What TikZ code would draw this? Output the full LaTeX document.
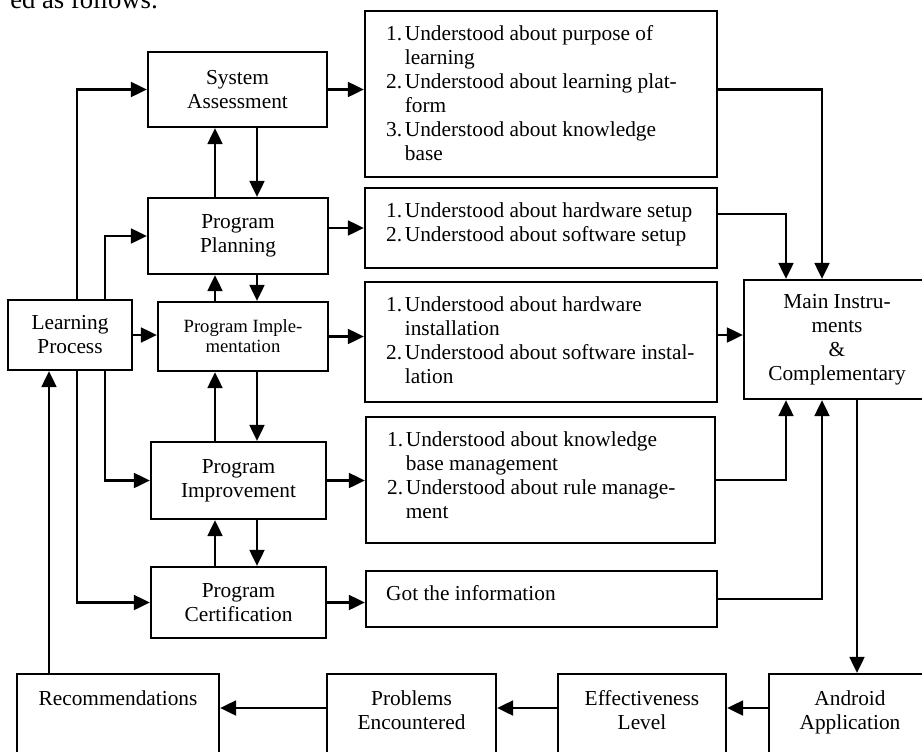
\documentclass[tikz,border=0pt]{standalone}
\usepackage{fontspec}
\setmainfont{Liberation Serif}
\usetikzlibrary{arrows.meta,calc}

\begin{document}
\begin{tikzpicture}[x=0.75pt,y=-0.75pt,
		box/.style={draw,line width=1.6pt,inner sep=0pt,align=center,font=\fontsize{16}{18}\selectfont},
		lst/.style={inner sep=0pt,anchor=north west,font=\fontsize{16}{18}\selectfont},
		top/.style={inner sep=0pt,anchor=north,align=center,font=\fontsize{16}{18}\selectfont},
		arr/.style={line width=2.1pt,-{Triangle[length=12pt,width=11pt]}},
		link/.style={line width=1.6pt}]
		\useasboundingbox (0,0) rectangle (922,751);
		\clip (0,0) rectangle (922,751);
		\node[anchor=base west,inner sep=0pt,font=\fontsize{20}{24}\selectfont] (head) at (10,8) {ed as follows:};
		% steps of the program
		\node[box,minimum width=134.25pt,minimum height=56.25pt] (SA) at (237.5,89.5) {System\\Assessment};
		\node[box,minimum width=135pt,minimum height=57pt] (PP) at (238,236) {Program\\Planning};
		\node[box,minimum width=127.5pt,minimum height=51.75pt,font=\fontsize{14}{15}\selectfont] (PI) at (243,336.5) {Program Imple-\\mentation};
		\node[box,minimum width=131.25pt,minimum height=57.75pt] (PImp) at (238.5,480.5) {Program\\Improvement};
		\node[box,minimum width=131.25pt,minimum height=53.25pt] (PCert) at (238.5,602.5) {Program\\Certification};
		\node[box,minimum width=93pt,minimum height=52.5pt] (LP) at (70,335) {Learning\\Process};
		% outcomes
		\node[box,minimum width=264pt,minimum height=124.5pt] (B1) at (541,94) {};
		\node[box,minimum width=264pt,minimum height=60pt] (B2) at (541,228) {};
		\node[box,minimum width=264pt,minimum height=90pt] (B3) at (541,342) {};
		\node[box,minimum width=261.75pt,minimum height=94.5pt] (B4) at (540.5,480) {};
		\node[box,minimum width=263.25pt,minimum height=42pt] (B5) at (541.5,599) {};
		\node[lst] (T1) at ($(B1.north west)+(22,13)$) {\begin{tabular}{@{}r@{\hspace{2pt}}l@{}}
				1. & Understood about purpose of\\
				& learning\\
				2. & Understood about learning plat-\\
				& form\\
				3. & Understood about knowledge\\
				& base
			\end{tabular}};
		\node[lst] (T2) at ($(B2.north west)+(22,13)$) {\begin{tabular}{@{}r@{\hspace{2pt}}l@{}}
				1. & Understood about hardware setup\\
				2. & Understood about software setup
			\end{tabular}};
		\node[lst] (T3) at ($(B3.north west)+(22,13)$) {\begin{tabular}{@{}r@{\hspace{2pt}}l@{}}
				1. & Understood about hardware\\
				& installation\\
				2. & Understood about software instal-\\
				& lation
			\end{tabular}};
		\node[lst] (T4) at ($(B4.north west)+(22,13)$) {\begin{tabular}{@{}r@{\hspace{2pt}}l@{}}
				1. & Understood about knowledge\\
				& base management\\
				2. & Understood about rule manage-\\
				& ment
			\end{tabular}};
		\node[lst] (T5) at ($(B5.north west)+(21,15)$) {Got the information};
		\node[box,minimum width=139.5pt,minimum height=89.25pt] (Main) at (837,339.5) {Main Instru-\\ments\\\&\\Complementary};
		% bottom row
		\node[box,minimum width=121.5pt,minimum height=87pt] (And) at (850,732) {};
		\node[box,minimum width=126pt,minimum height=87pt] (Eff) at (642,732) {};
		\node[box,minimum width=126.75pt,minimum height=87pt] (Prob) at (411.5,732) {};
		\node[box,minimum width=151.5pt,minimum height=87pt] (Rec) at (118,732) {};
		\node[top] (TAnd) at ($(And.north)+(0,17)$) {Android\\Application};
		\node[top] (TEff) at ($(Eff.north)+(0,17)$) {Effectiveness\\Level};
		\node[top] (TProb) at ($(Prob.north)+(0,17)$) {Problems\\Encountered};
		\node[top] (TRec) at ($(Rec.north)+(0,17)$) {Recommendations};
		% learning process to the steps
		\draw[arr] (77,0 |- LP.north) |- (SA.west);
		\draw[arr] (105,0 |- LP.north) |- (PP.west);
		\draw[arr] (LP.east) -- (LP.east -| PI.west);
		\draw[arr] (105,0 |- LP.south) |- (PImp.west);
		\draw[arr] (77,0 |- LP.south) |- (PCert.west);
		\draw[arr] (49,0 |- Rec.north) -- (49,0 |- LP.south);
		% between the steps
		\foreach \a/\b in {SA/PP,PP/PI,PI/PImp,PImp/PCert}{
			\draw[arr] (215,0 |- \b.north) -- (215,0 |- \a.south);
			\draw[arr] (257,0 |- \a.south) -- (257,0 |- \b.north);
		}
		% steps to outcomes
		\draw[arr] (SA.east) -- (SA.east -| B1.west);
		\draw[arr] (PP.east |- B2.west) -- (B2.west);
		\draw[arr] (PI.east) -- (PI.east -| B3.west);
		\draw[arr] (PImp.east) -- (PImp.east -| B4.west);
		\draw[arr] (PCert.east) -- (PCert.east -| B5.west);
		% outcomes to main instruments
		\draw[arr] (SA.east -| B1.east) -| (822,0 |- Main.north);
		\draw[arr] (B2.east |- 0,214) -| (786,0 |- Main.north);
		\draw[arr] (B3.east |- 0,335) -- (Main.west |- 0,335);
		\draw[arr] (B4.east) -| (786,0 |- Main.south);
		\draw[arr] (B5.east) -| (822,0 |- Main.south);
		% bottom row
		\draw[arr] (857,0 |- Main.south) -- (857,0 |- And.north);
		\draw[arr] (And.west |- 0,708) -- (Eff.east |- 0,708);
		\draw[arr] (Eff.west |- 0,708) -- (Prob.east |- 0,708);
		\draw[arr] (Prob.west |- 0,708) -- (Rec.east |- 0,708);
	\end{tikzpicture}
\end{document}
